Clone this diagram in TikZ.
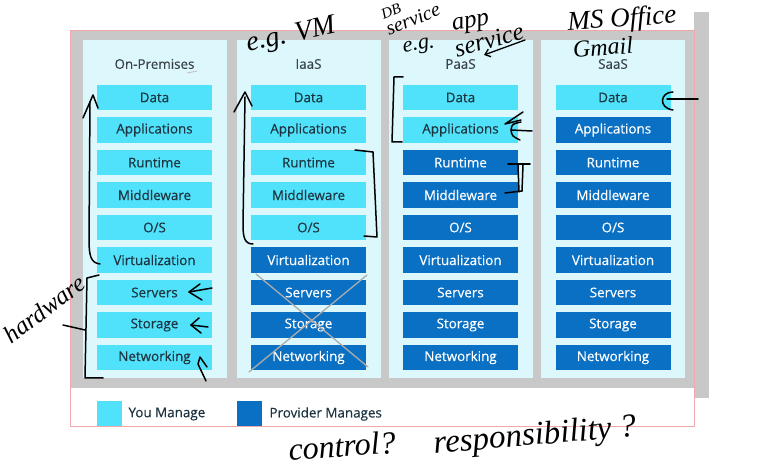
\documentclass[tikz,border=0pt]{standalone}
\usepackage{fontspec}
\setmainfont{Open Sans}
\newfontfamily\boxfont{Open Sans}[FakeBold=0.35]
\newfontfamily\hand{Liberation Serif}
\usetikzlibrary{arrows.meta}
\definecolor{lite}{HTML}{50E2FA}
\definecolor{dark}{HTML}{0A70C4}
\definecolor{colbg}{HTML}{DDF8FC}
\definecolor{panel}{HTML}{C8C8C8}
\definecolor{framec}{HTML}{F0A8A8}
\definecolor{txtd}{HTML}{1E3440}
\definecolor{titlec}{HTML}{3A4248}
\begin{document}
\begin{tikzpicture}[x=1pt,y=-1pt,
  box/.style={minimum width=115pt, minimum height=25.5pt, inner sep=0pt, font=\boxfont\fontsize{13.4}{15}\selectfont},
  litebox/.style={box, fill=lite, text=txtd},
  darkbox/.style={box, fill=dark, text=white},
  coltitle/.style={font=\boxfont\fontsize{13.4}{15}\selectfont, text=titlec},
  legtext/.style={anchor=west, font=\boxfont\fontsize{13.4}{15}\selectfont, text=txtd},
  hw/.style={line width=1.5pt, line cap=round, line join=round, black},
  hwtext/.style={inner sep=0pt, text=black},
  crossline/.style={line width=1.3pt, line cap=round, gray!65}]
\useasboundingbox (0,0) rectangle (758,470);
\fill[white] (0,0) rectangle (758,470);
% panel
\fill[panel] (694,12) rectangle (709,398);
\fill[panel] (71,31) rectangle (694,388);
\draw[framec, line width=0.8pt] (70,30) rectangle (694,426);
% columns
\foreach \cx in {154.5,308.5,460.5,613} {
  \fill[colbg] (\cx-72,40) rectangle (\cx+72,378);
}
\node[coltitle] (t1) at (154.5,64) {On-Premises};
\node[coltitle] (t2) at (308.5,64) {IaaS};
\node[coltitle] (t3) at (460.5,64) {PaaS};
\node[coltitle] (t4) at (613,64) {SaaS};
% boxes
\foreach \cx/\nl [count=\i] in {154.5/9,308.5/5,460.5/2,613/1} {
  \foreach \lab [count=\j] in {Data,Applications,Runtime,Middleware,O/S,Virtualization,Servers,Storage,Networking} {
    \pgfmathsetmacro\yy{97.5+32.5*(\j-1)}
    \ifnum\j>\nl
      \node[darkbox] (c\i r\j) at (\cx,\yy) {\lab};
    \else
      \node[litebox] (c\i r\j) at (\cx,\yy) {\lab};
    \fi
  }
}
% legend
\node[fill=lite, minimum size=25pt, inner sep=0pt] (lg1) at (109,413.5) {};
\node[legtext] (lt1) at (125,414) {You Manage};
\node[fill=dark, minimum size=25pt, inner sep=0pt] (lg2) at (249.5,413.5) {};
\node[legtext] (lt2) at (266,414) {Provider Manages};
% smudge
\draw[gray!45, line width=1pt] (187,73) -- (197,71);
% cross over IaaS hardware
\draw[crossline] (256,274) -- (368,367);
\draw[crossline] (367,275) -- (249,372);
% handwriting strokes
% On-Premises arrow
\draw[hw] (100,264) .. controls (91,263) and (89,256) .. (89,240) -- (90,102);
\draw[hw] (83,118) -- (93,95) -- (98,108);
% hardware bracket
\draw[hw] (99,275) -- (87,278) -- (85,378) -- (103,378);
\draw[hw] (63,325) -- (85,330);
% servers / storage / networking arrows
\draw[hw] (212,288) -- (189,292);
\draw[hw] (200,284) -- (189,292) -- (202,300);
\draw[hw] (208,327) -- (191,325);
\draw[hw] (199,318) -- (191,325) -- (201,333);
\draw[hw] (206,381) -- (198,364) -- (200,357) -- (207,367);
% IaaS arrow
\draw[hw] (253,244) .. controls (245,244) and (243,238) .. (243,225) -- (245,97);
\draw[hw] (234,112) -- (245,92) -- (252,106);
% IaaS bracket
\draw[hw] (355,150) -- (373,152) -- (377,237) -- (364,236);
% PaaS bracket
\draw[hw] (403,77) -- (394,77) -- (392,142) -- (402,142);
% PaaS applications arrows
\draw[hw] (532,131) -- (511,130);
\draw[hw] (521,122) .. controls (512,124) .. (511,130) .. controls (512,136) .. (520,140);
\draw[hw] (523,112) -- (505,124) -- (521,120);
% PaaS runtime/middleware bracket
\draw[hw] (508,164) -- (530,164);
\draw[hw] (518,165) -- (519,192);
\draw[hw] (523,165) -- (522,191);
\draw[hw] (505,193) -- (522,191);
% SaaS data arrow
\draw[hw] (698,99) -- (667,99);
\draw[hw] (673,92) .. controls (660,92) and (658,108) .. (673,110);
% PaaS label arrow
\draw[hw, line width=1.3pt, -{Straight Barb[length=5pt,width=8pt]}] (525,40) -- (484,55);
% handwriting text
\node[hwtext, rotate=12, font=\hand\itshape\fontsize{28}{28}\selectfont] (hvm) at (291,36) {e.g. VM};
\node[hwtext, rotate=22, font=\hand\itshape\fontsize{15}{15}\selectfont] (hdb) at (391,11) {DB};
\node[hwtext, rotate=22, font=\hand\itshape\fontsize{20}{20}\selectfont] (hdbs) at (413,19) {service};
\node[hwtext, rotate=8, font=\hand\itshape\fontsize{22}{22}\selectfont] (heg) at (419,47) {e.g.};
\node[hwtext, rotate=10, font=\hand\itshape\fontsize{25}{25}\selectfont] (happ) at (471,24) {app};
\node[hwtext, rotate=16, font=\hand\itshape\fontsize{25}{25}\selectfont] (hsv) at (489,40) {service};
\node[hwtext, rotate=4, font=\hand\itshape\fontsize{27}{27}\selectfont] (hms) at (622,20) {MS Office};
\node[hwtext, rotate=4, font=\hand\itshape\fontsize{24}{24}\selectfont] (hgm) at (603,47) {Gmail};
\node[hwtext, rotate=37, font=\hand\itshape\fontsize{25}{25}\selectfont] (hhw) at (44,309) {hardware};
\node[hwtext, rotate=4, font=\hand\itshape\fontsize{32}{32}\selectfont] (hct) at (342,446) {control?};
\node[hwtext, rotate=5, font=\hand\itshape\fontsize{33}{33}\selectfont] (hresp) at (535,437) {responsibility ?};
\end{tikzpicture}
\end{document}
